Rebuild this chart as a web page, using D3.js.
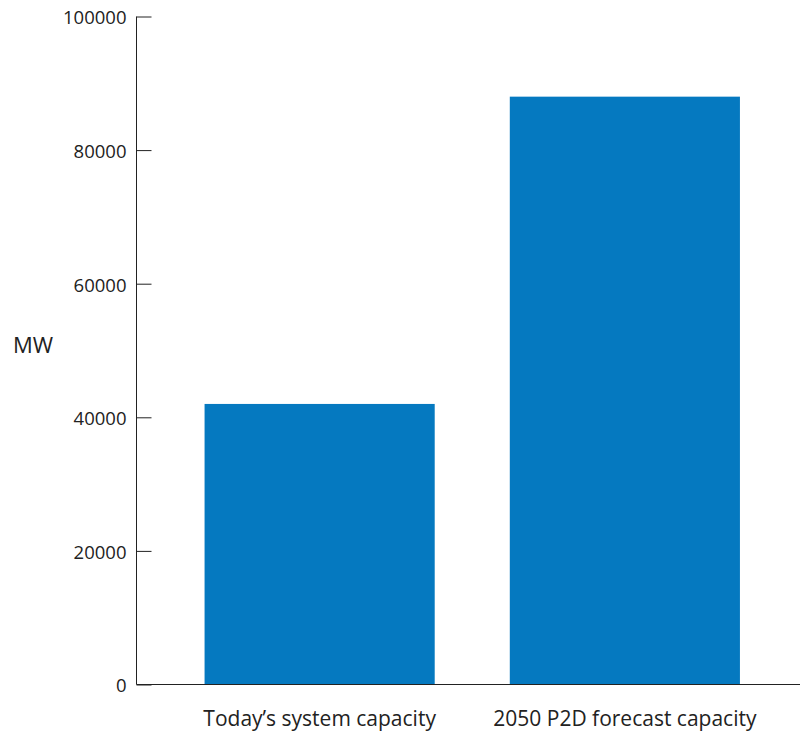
<!DOCTYPE html>
<html><head><meta charset="utf-8">
<script src="https://cdn.jsdelivr.net/npm/d3@7"></script>
<style>body{margin:0;background:#fff}text{font-family:"Open Sans",sans-serif;fill:#222}</style>
</head><body>
<svg id="c" width="800" height="731"></svg>
<script>
const categories = ["Today\u2019s system capacity", "2050 P2D forecast capacity"];
const values = [42000, 88000];
const yTicks = [0, 20000, 40000, 60000, 80000, 100000];

const svg = d3.select("#c");
const x0 = 136.5, yTop = 16.5, yBot = 684.5;
const x = d3.scaleBand().domain(categories).range([x0, 808]).paddingInner(0.246).paddingOuter(0.223);
const y = d3.scaleLinear().domain([0, 100000]).range([yBot, yTop]);

svg.selectAll("rect.bar").data(values).join("rect")
  .attr("class","bar")
  .attr("x",(d,i)=>x(categories[i]))
  .attr("width",x.bandwidth())
  .attr("y",d=>y(d))
  .attr("height",d=>yBot-y(d))
  .attr("fill","#0579C0");

const yAxis = svg.append("g").attr("transform",`translate(${x0},0)`)
  .call(d3.axisRight(y).tickValues(yTicks).tickSize(15).tickFormat(d3.format("d")));
yAxis.select(".domain").remove();
yAxis.selectAll("line").attr("stroke","#222");
yAxis.selectAll("text").attr("x",-10).attr("text-anchor","end").attr("dy","0.4em")
  .style("font-size","18.5px");
svg.append("line").attr("x1",x0).attr("x2",x0).attr("y1",yTop).attr("y2",yBot).attr("stroke","#222");
svg.append("line").attr("x1",x0).attr("x2",800).attr("y1",yBot).attr("y2",yBot).attr("stroke","#222");

svg.selectAll("text.cat").data(categories).join("text")
  .attr("class","cat")
  .attr("x",d=>x(d)+x.bandwidth()/2)
  .attr("y",726)
  .attr("text-anchor","middle")
  .style("font-size","21px")
  .text(d=>d);

svg.append("text").attr("x",13).attr("y",353).style("font-size","22px").text("MW");
</script>
</body></html>
